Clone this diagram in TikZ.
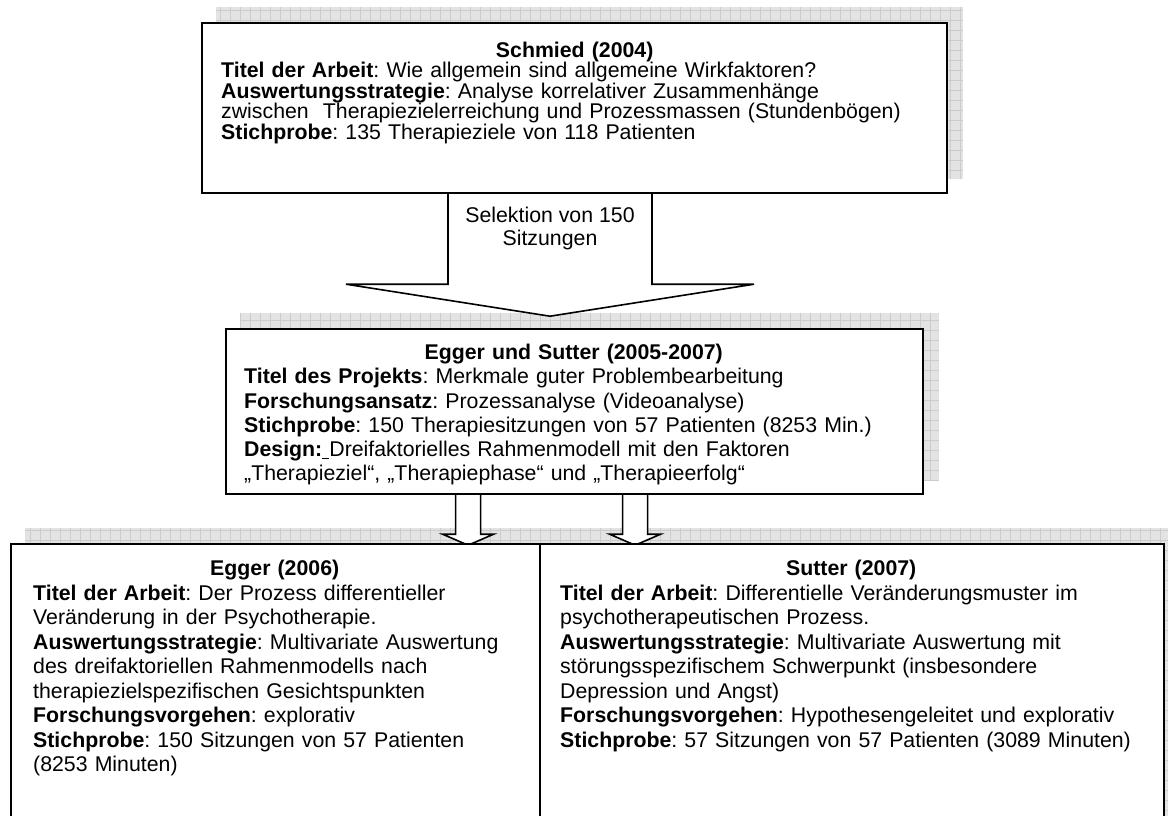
\documentclass[tikz,border=0pt]{standalone}
\usepackage{fontspec}
\setmainfont{Liberation Sans}
\frenchspacing
\usetikzlibrary{calc,positioning,backgrounds}

\begin{document}
\begin{tikzpicture}[
x=1pt, y=-1pt,
box/.style={draw, line width=2.2pt, fill=white, inner sep=0pt, anchor=north west},
txt/.style={inner sep=0pt, align=left, anchor=north west,
	font=\fontsize{21.3}{24.5}\selectfont},
blockarrow/.style={draw, line width=1.6pt, fill=white, line join=miter},
shadowfill/.style={fill=black!11},
shadowgrid/.style={draw=black!20, line width=0.7pt}
]
\useasboundingbox (0,0) rectangle (1168,816);
\clip (0,0) rectangle (1168,816);

\node[box, minimum width=745pt, minimum height=170pt] (schmied) at (201,22) {};
\node[box, minimum width=697pt, minimum height=165pt] (projekt) at (225,328) {};
\node[box, minimum width=529pt, minimum height=320pt] (egger) at (10,543) {};
\node[box, minimum width=624pt, minimum height=320pt] (sutter) at (539,543) {};

\node[txt, text width=707pt, font=\fontsize{21.3}{20.5}\selectfont,
	below right=18pt and 20pt of schmied.north west] (schmiedtxt)
	{{\centering\rule{0pt}{17pt}\textbf{Schmied (2004)}\par}
	\textbf{Titel der Arbeit}: Wie allgemein sind allgemeine Wirkfaktoren?\\
	\textbf{Auswertungsstrategie}: Analyse korrelativer Zusammenhänge\\
	zwischen\ \ Therapiezielerreichung und Prozessmassen (Stundenbögen)\\
	\textbf{Stichprobe}: 135 Therapieziele von 118 Patienten};

\node[txt, align=center, anchor=north, font=\fontsize{21.3}{23}\selectfont]
	(sel) at (550,205.5) {\rule{0pt}{17pt}Selektion von 150\\Sitzungen};
\coordinate (a1) at (sel |- schmied.south);
\coordinate (a2) at ($(projekt.south)+(-106.5,0)$);
\coordinate (a3) at ($(projekt.south)+(60.5,0)$);

\begin{scope}
\clip (projekt.north west) rectangle ([yshift=10pt]projekt.south east);
\node[txt, text width=659pt, font=\fontsize{21.3}{24.2}\selectfont,
	below right=14.5pt and 19pt of projekt.north west] (projekttxt)
	{{\centering\rule{0pt}{17pt}\textbf{Egger und Sutter (2005-2007)}\par}
	\textbf{Titel des Projekts}: Merkmale guter Problembearbeitung\\
	\textbf{Forschungsansatz}: Prozessanalyse (Videoanalyse)\\
	\textbf{Stichprobe}: 150 Therapiesitzungen von 57 Patienten (8253 Min.)\\
	\textbf{Design:}\underline{\ }Dreifaktorielles Rahmenmodell mit den Faktoren\\
	„Therapieziel“, „Therapiephase“ und „Therapieerfolg“};
\end{scope}

\node[txt, text width=483pt, below right=15.5pt and 23pt of egger.north west] (eggertxt)
	{{\centering\rule{0pt}{17pt}\textbf{Egger (2006)}\par}
	\textbf{Titel der Arbeit}: Der Prozess differentieller\\
	Veränderung in der Psychotherapie.\\
	\textbf{Auswertungsstrategie}: Multivariate Auswertung\\
	des dreifaktoriellen Rahmenmodells nach\\
	therapiezielspezifischen Gesichtspunkten\\
	\textbf{Forschungsvorgehen}: explorativ\\
	\textbf{Stichprobe}: 150 Sitzungen von 57 Patienten\\
	(8253 Minuten)};

\node[txt, text width=582pt, below right=15.5pt and 21pt of sutter.north west] (suttertxt)
	{{\centering\rule{0pt}{17pt}\textbf{Sutter (2007)}\par}
	\textbf{Titel der Arbeit}: Differentielle Veränderungsmuster im\\
	psychotherapeutischen Prozess.\\
	\textbf{Auswertungsstrategie}: Multivariate Auswertung mit\\
	störungsspezifischem Schwerpunkt (insbesondere\\
	Depression und Angst)\\
	\textbf{Forschungsvorgehen}: Hypothesengeleitet und explorativ\\
	\textbf{Stichprobe}: 57 Sitzungen von 57 Patienten (3089 Minuten)};

\begin{scope}[on background layer]
\foreach \b in {schmied,projekt,egger,sutter}{
	\fill[shadowfill] ([shift={(15,-15)}]\b.south west) rectangle ([shift={(15,-15)}]\b.north east);
	\draw[shadowgrid] ([shift={(15,-15)}]\b.south west) grid[step=10pt] ([shift={(15,-15)}]\b.north east);
}
\draw[blockarrow] ([xshift=-102pt]a1) -- ++(0,90) -- ++(-102,0) -- ++(204,32)
	-- ++(204,-32) -- ++(-102,0) -- ++(0,-90);
\foreach \c in {a2,a3}
	\draw[blockarrow] ([xshift=-12.5pt]\c) -- ++(0,39) -- ++(-13,0) -- ++(25.5,11)
		-- ++(25.5,-11) -- ++(-13,0) -- ++(0,-39);
\end{scope}
\end{tikzpicture}
\end{document}
